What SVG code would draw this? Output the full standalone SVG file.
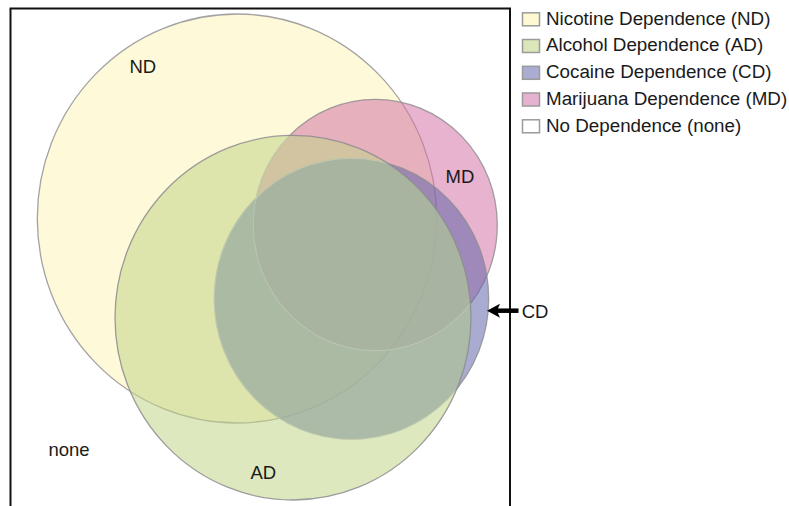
<svg xmlns="http://www.w3.org/2000/svg" width="789" height="506" viewBox="0 0 789 506">
  <style>
    text { font-family: "Liberation Sans", Arial, sans-serif; fill: #1a1a1a; }
    .lbl { font-size: 18.5px; }
    .leg { font-size: 18.8px; }
    .set { fill-opacity: 0.55; stroke: #8c8c90; stroke-opacity: 0.8; stroke-width: 1.3; }
    .edge { fill: none; stroke: #8c8c90; stroke-opacity: 0.85; stroke-width: 1.3; }
    .inner { fill: none; stroke: #d6dccf; stroke-opacity: 0.45; stroke-width: 1.2; }
    .sw { stroke: #9b9b9b; stroke-width: 1.5; }
  </style>
  <defs>
    <marker id="arrowhead" markerUnits="userSpaceOnUse" markerWidth="13" markerHeight="14" viewBox="0 0 13 14" refX="4" refY="7" orient="auto">
      <path d="M0,0 L13,7 L0,14 L3,7 Z" fill="#000"/>
    </marker>
    <clipPath id="clipAD">
      <ellipse cx="293" cy="317.7" rx="178" ry="182.3"/>
    </clipPath>
  </defs>
  <rect width="789" height="506" fill="#ffffff"/>

  <!-- frame -->
  <path d="M10.5,510 V8.5 H510 V510" fill="none" stroke="#111" stroke-width="2"/>

  <!-- sets, drawn bottom to top -->
  <g id="ND">
    <ellipse class="set" cx="237" cy="218.5" rx="199.7" ry="204.5" fill="#FDF4B8"/>
  </g>
  <g id="MD">
    <ellipse class="set" cx="375.3" cy="225" rx="122" ry="125.7" fill="#D375A8"/>
  </g>
  <g id="CD">
    <ellipse class="set" cx="351.5" cy="298.8" rx="137.2" ry="140.5" fill="#6366AA"/>
  </g>
  <g id="AD">
    <ellipse cx="293" cy="317.7" rx="178" ry="182.3" fill="#C1D589" fill-opacity="0.55"/>
    <ellipse cx="351.5" cy="298.8" rx="137.2" ry="140.5" fill="#A0B3A5" fill-opacity="0.5" clip-path="url(#clipAD)"/>
    <g clip-path="url(#clipAD)">
      <ellipse class="inner" cx="351.5" cy="298.8" rx="137.2" ry="140.5"/>
      <ellipse class="inner" cx="375.3" cy="225" rx="122" ry="125.7"/>
    </g>
    <ellipse class="edge" cx="293" cy="317.7" rx="178" ry="182.3"/>
  </g>

  <!-- set labels -->
  <g id="labels">
    <text class="lbl" x="129.5" y="73">ND</text>
    <text class="lbl" x="445.5" y="182.7">MD</text>
    <text class="lbl" x="250.5" y="479">AD</text>
    <text class="lbl" x="48.5" y="456">none</text>
    <text class="lbl" x="521.7" y="318.3">CD</text>
  </g>

  <!-- connectors -->
  <g id="connectors">
    <line x1="518.5" y1="310.7" x2="496" y2="310.7" stroke="#000" stroke-width="4.5" marker-end="url(#arrowhead)"/>
  </g>

  <!-- legend -->
  <g id="legend">
    <g id="legend-ND">
      <rect class="sw" x="522.5" y="12.8" width="17" height="13" fill="#FEF9D3"/>
      <text class="leg" x="546" y="24.5">Nicotine Dependence (ND)</text>
    </g>
    <g id="legend-AD">
      <rect class="sw" x="522.5" y="39.5" width="17" height="13" fill="#DBE6B9"/>
      <text class="leg" x="546" y="51.3">Alcohol Dependence (AD)</text>
    </g>
    <g id="legend-CD">
      <rect class="sw" x="522.5" y="66.3" width="17" height="13" fill="#AAACD2"/>
      <text class="leg" x="546" y="78">Cocaine Dependence (CD)</text>
    </g>
    <g id="legend-MD">
      <rect class="sw" x="522.5" y="93" width="17" height="13" fill="#E7B2D0"/>
      <text class="leg" x="546" y="104.8">Marijuana Dependence (MD)</text>
    </g>
    <g id="legend-none">
      <rect class="sw" x="522.5" y="119.8" width="17" height="13" fill="#ffffff"/>
      <text class="leg" x="546" y="131.5">No Dependence (none)</text>
    </g>
  </g>
</svg>
